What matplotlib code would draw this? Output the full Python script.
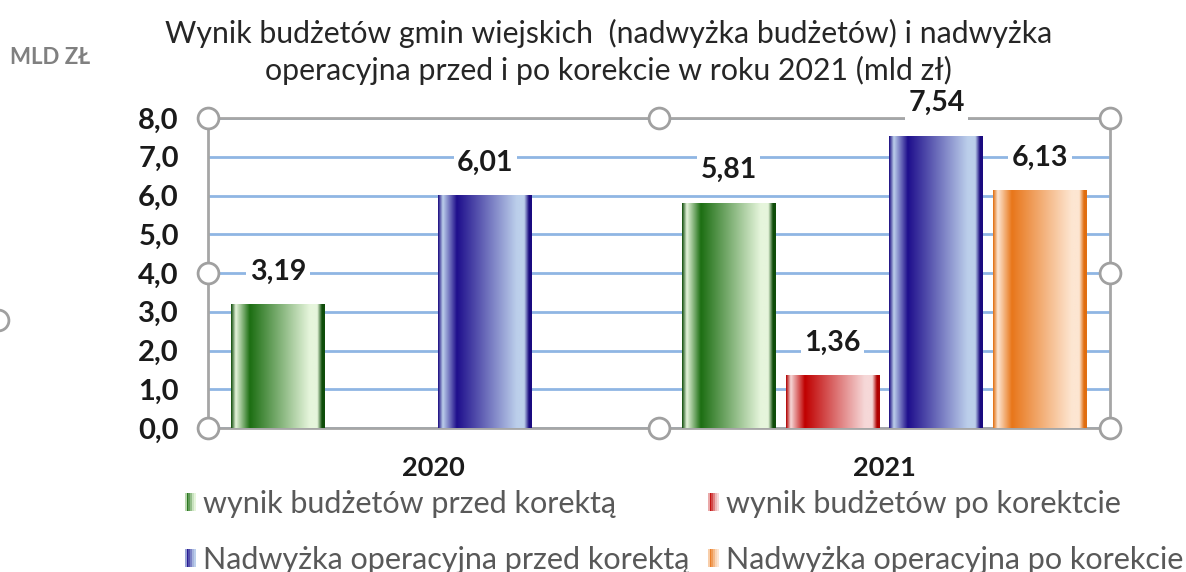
import numpy as np
import matplotlib
matplotlib.use("Agg")
import matplotlib.pyplot as plt
from matplotlib.colors import LinearSegmentedColormap
from matplotlib.legend_handler import HandlerBase
from matplotlib.patches import Rectangle
from matplotlib.lines import Line2D

plt.rcParams['font.family'] = ['Lato', 'DejaVu Sans']

# dane
kategorie = ["2020", "2021"]
serie = ["wynik budżetów przed korektą", "wynik budżetów po korektcie",
         "Nadwyżka operacyjna przed korektą", "Nadwyżka operacyjna po korekcie"]
wynik_przed = [3.19, 5.81]
wynik_po = [np.nan, 1.36]
nadwyzka_przed = [6.01, 7.54]
nadwyzka_po = [np.nan, 6.13]
wartosci = [wynik_przed, wynik_po, nadwyzka_przed, nadwyzka_po]
yticki = [0, 1, 2, 3, 4, 5, 6, 7, 8]

# kolory: (ciemny, jasny, krawedz)
kolory = [("#1c6e12", "#e6f5dc", "#0f4d0a"),
          ("#c00000", "#f6d8d8", "#b00000"),
          ("#1e0e8c", "#bccfeb", "#1a0a80"),
          ("#e8761a", "#fde6d2", "#e06e10")]


def gradient(ciemny, jasny, krawedz):
    stops = [(0.0, krawedz), (0.05, jasny), (0.2, ciemny), (0.84, jasny),
             (0.92, jasny), (0.97, krawedz), (1.0, krawedz)]
    cmap = LinearSegmentedColormap.from_list("g", stops)
    return cmap(np.linspace(0, 1, 256))[None, :, :]


class HandlerGradient(HandlerBase):
    def __init__(self, kol):
        super().__init__()
        self.kol = kol

    def create_artists(self, legend, orig_handle, xdescent, ydescent,
                       width, height, fontsize, trans):
        img = gradient(*self.kol)[0]
        n = 6
        arts = []
        for k in range(n):
            c = img[int((k + 0.5) / n * 255)]
            r = Rectangle((-xdescent + k * width / n, -ydescent), width / n, height,
                          facecolor=c, edgecolor="none", transform=trans)
            arts.append(r)
        return arts


fig = plt.figure(figsize=(11.86, 5.72), dpi=100)
ax = fig.add_axes([0.1754, 0.2517, 0.7605, 0.542])

x = np.arange(len(kategorie))
krok = 0.23
szer = 0.208

for i, vals in enumerate(wartosci):
    pos = x + (i - 1.5) * krok
    bars = ax.bar(pos, vals, szer, color=kolory[i][0], zorder=3)
    img = gradient(*kolory[i])
    for b, v in zip(bars, vals):
        if np.isnan(v):
            continue
        im = ax.imshow(img, extent=[b.get_x(), b.get_x() + b.get_width(), 0, b.get_height()],
                       aspect="auto", zorder=4, interpolation="bilinear")
        im.set_clip_path(b)
        ax.annotate(f"{v:.2f}".replace(".", ","), (b.get_x() + b.get_width() / 2, v),
                    xytext=(0, 23.5), textcoords="offset points", ha="center", va="center",
                    fontsize=20.5, fontweight="bold", color="#1a1a1a", zorder=6,
                    bbox=dict(facecolor="white", edgecolor="none", pad=2.5))

ax.set_xlim(-0.5, 1.5)
ax.set_ylim(0, 8)
ax.set_yticks(yticki)
ax.set_yticklabels([f"{t:.1f}".replace(".", ",") for t in yticki],
                   fontsize=21, fontweight="bold", color="#1a1a1a")
ax.set_xticks(x)
ax.set_xticklabels(kategorie, fontsize=19.5, fontweight="bold", color="#1a1a1a")
ax.tick_params(length=0)
ax.tick_params(axis="y", pad=21)
ax.tick_params(axis="x", pad=20)
ax.yaxis.grid(True, color="#8fb6e3", linewidth=2, zorder=1)
ax.set_axisbelow(True)
for s in ax.spines.values():
    s.set_color("#a6a6a6")
    s.set_linewidth(2)

# uchwyty zaznaczenia
uch_x = [0, 0.5, 1, 0, 1, 0, 0.5, 1]
uch_y = [1, 1, 1, 0.5, 0.5, 0, 0, 0]
ax.plot(uch_x, uch_y, "o", transform=ax.transAxes, clip_on=False, markersize=15,
        markerfacecolor="white", markeredgecolor="#a0a0a0", markeredgewidth=2,
        linestyle="none", zorder=10)
fig.add_artist(Line2D([-0.002], [1 - 320 / 572], marker="o", markersize=15,
                      markerfacecolor="white", markeredgecolor="#a0a0a0",
                      markeredgewidth=2, transform=fig.transFigure))

fig.text(0.513, 1 - 52 / 572,
         "Wynik budżetów gmin wiejskich  (nadwyżka budżetów) i nadwyżka\n"
         "operacyjna przed i po korekcie w roku 2021 (mld zł)",
         ha="center", va="center", fontsize=21.8, color="#262626", linespacing=1.35)
fig.text(0.0085, 1 - 58 / 572, "MLD ZŁ", ha="left", va="center",
         fontsize=16, fontweight="bold", color="#808080")

uchwyty = [Rectangle((0, 0), 1, 1) for _ in serie]
kolejnosc = [0, 2, 1, 3]
leg = fig.legend([uchwyty[k] for k in kolejnosc], [serie[k] for k in kolejnosc],
                 handler_map={uchwyty[k]: HandlerGradient(kolory[k]) for k in range(4)},
                 ncol=2, loc="upper left", bbox_to_anchor=(0.143, 0.170),
                 frameon=False, fontsize=22, handlelength=0.35, handleheight=0.55,
                 handletextpad=0.25, columnspacing=0.6, labelspacing=0.9, borderpad=0)
for t in leg.get_texts():
    t.set_color("#595959")

fig.savefig("out.png", dpi=100)
